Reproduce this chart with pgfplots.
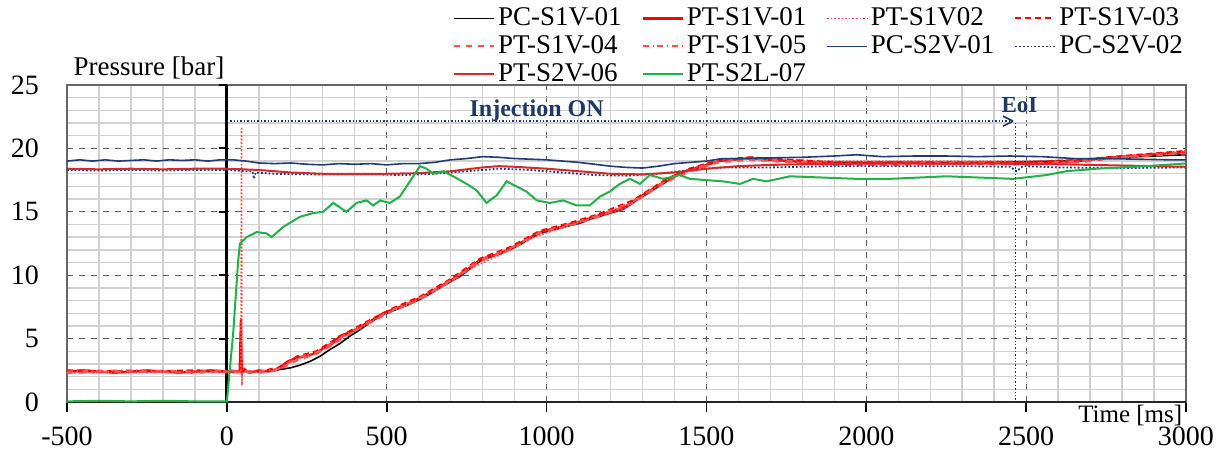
\documentclass[border=0pt]{standalone}
\usepackage{pgfplots}
\pgfplotsset{compat=1.18}
\usepackage{fontspec}
\setmainfont{Liberation Serif}
\usetikzlibrary{arrows.meta}
\definecolor{navy}{HTML}{203C78}
\definecolor{annot}{HTML}{1F3864}
\definecolor{grn}{HTML}{22B04B}
\definecolor{pink}{HTML}{FF5050}
\definecolor{dred}{HTML}{D42A2A}
\begin{document}
\begin{tikzpicture}
\begin{axis}[
  at={(0,0)}, anchor=south west,
  scale only axis, width=559.5pt, height=158.5pt,
  clip mode=individual,
  xmin=-500, xmax=3000, ymin=0, ymax=25,
  xtick={-500,0,500,1000,1500,2000,2500,3000},
  xticklabels={-500,0,500,1000,1500,2000,2500,3000},
  ytick={0,5,10,15,20,25},
  yticklabels={0,5,10,15,20,25},
  minor x tick num=4, minor y tick num=4,
  grid=both,
  major grid style={dashed, black!65, line width=0.5pt},
  minor grid style={solid, black!18, line width=0.7pt},
  axis line style={black!60, line width=0.6pt},
  tick align=outside, xtick pos=bottom, ytick style={draw=none},
  major tick length=5pt, minor tick length=0pt,
  xtick style={black, line width=0.8pt},
  ticklabel style={font=\fontsize{14}{14}\selectfont},
  xticklabel style={yshift=-4pt},
  yticklabel style={xshift=-5.5pt},
  legend columns=4,
  legend cell align=left,
  legend image code/.code={\draw[#1] (0pt,0pt) -- (20pt,0pt);},
  legend style={draw=none, fill=none, inner sep=0pt, outer sep=0pt,
    at={(rel axis cs:1.0,1.2524)}, anchor=north east,
    font=\fontsize{13.5}{13.5}\selectfont,
    row sep=0.5pt,
    /tikz/every even column/.append style={column sep=8.5pt},
    nodes={inner sep=1.5pt}},
]
% axis lines
\draw[black!85, line width=1.1pt] (axis cs:-500,0) -- (axis cs:3000,0);
\draw[black, line width=1.6pt] (axis cs:0,0) -- (axis cs:0,25);
\draw[black, line width=1pt] (axis cs:0,5) -- ++(-4pt,0pt);
\draw[black, line width=1pt] (axis cs:0,10) -- ++(-4pt,0pt);
\draw[black, line width=1pt] (axis cs:0,15) -- ++(-4pt,0pt);
\draw[black, line width=1pt] (axis cs:0,20) -- ++(-4pt,0pt);
\draw[black, line width=1pt] (axis cs:0,25) -- ++(-4pt,0pt);

% PC-S1V-01 black
\addplot[black, line width=0.8pt] coordinates {
(-500,2.4) (-250,2.4) (0,2.4) (100,2.4) (150,2.5) (200,2.7) (228,2.9) (260,3.2) (291,3.6) (320,4.1) (353,4.6) (385,5.2) (416,5.7) (450,6.3) (489,6.9) (520,7.2) (541,7.4) (570,7.7) (604,8.1) (640,8.6) (666,9.0) (700,9.5) (729,9.9) (760,10.5) (791,11.1) (820,11.4) (854,11.7) (885,12.0) (916,12.4) (950,12.9) (979,13.3) (1010,13.5) (1042,13.7) (1070,13.9) (1104,14.1) (1135,14.4) (1161,14.6) (1200,14.9) (1240,15.2) (1270,15.7) (1292,16.1) (1320,16.5) (1344,16.9) (1370,17.3) (1396,17.7) (1420,18.0) (1448,18.3) (1500,18.7) (1540,19.0) (1573,19.1) (1636,19.2) (1698,19.1) (1761,19.0) (1820,18.9) (1900,18.9) (2000,18.9) (2200,18.9) (2400,18.9) (2600,19.0) (2700,19.1) (2800,19.3) (2900,19.4) (3000,19.5)
};
\addlegendentry{PC-S1V-01}

% PT-S1V-01 red solid
\addplot[red, line width=1.1pt] coordinates {
(-500,2.4) (-450,2.5) (-400,2.4) (-350,2.3) (-300,2.4) (-250,2.5) (-200,2.4) (-150,2.3) (-100,2.4) (-50,2.5) (0,2.4) (40,2.4) (44,6.6) (47,2.3) (55,2.6) (70,2.3) (100,2.5) (130,2.4) (160,2.6) (190,3.2) (220,3.5) (250,3.6) (280,3.9) (300,4.2) (330,4.6) (353,5.2) (385,5.5) (416,5.9) (450,6.4) (489,7.0) (520,7.3) (541,7.5) (570,7.8) (604,8.2) (640,8.7) (666,9.1) (700,9.6) (729,10.0) (760,10.6) (791,11.2) (820,11.5) (854,11.7) (885,12.1) (916,12.5) (950,13.0) (979,13.4) (1010,13.6) (1042,13.8) (1070,14.0) (1104,14.2) (1135,14.5) (1161,14.7) (1200,15.0) (1240,15.3) (1270,15.8) (1292,16.2) (1320,16.6) (1344,17.0) (1370,17.4) (1396,17.8) (1420,18.1) (1448,18.3) (1500,18.7) (1540,19.0) (1573,19.1) (1636,19.2) (1698,19.1) (1761,19.0) (1820,18.9) (1900,18.8) (2000,18.8) (2100,18.9) (2200,18.8) (2300,18.8) (2400,18.9) (2500,18.8) (2600,18.9) (2668,19.0) (2720,19.2) (2772,19.3) (2830,19.4) (2880,19.5) (2940,19.6) (3000,19.7)
};
\addlegendentry{PT-S1V-01}

% PT-S1V02 dotted light red with spike
\addplot[red!70, densely dotted, line width=0.8pt] coordinates {
(-500,2.3) (-300,2.3) (-100,2.4) (0,2.3) (44,2.3) (46,21.7) (47,1.3) (49,2.4) (100,2.4) (160,2.6) (220,3.4) (280,3.8) (353,5.0) (416,5.8) (489,6.9) (570,7.7) (666,9.0) (760,10.5) (854,11.6) (950,12.9) (1042,13.7) (1135,14.4) (1240,15.2) (1344,17.0) (1448,18.4) (1540,19.1) (1636,19.3) (1761,19.1) (1900,19.0) (2100,19.0) (2300,19.0) (2500,19.0) (2668,19.1) (2800,19.4) (3000,19.8)
};
\addlegendentry{PT-S1V02}

% PT-S1V-03 dashed red
\addplot[red, densely dashed, line width=1pt] coordinates {
(-500,2.5) (-300,2.4) (-100,2.5) (0,2.4) (100,2.4) (160,2.7) (220,3.6) (280,4.0) (330,4.8) (385,5.6) (450,6.5) (520,7.4) (604,8.3) (700,9.7) (791,11.3) (885,12.2) (979,13.5) (1070,14.1) (1161,14.8) (1270,15.9) (1370,17.5) (1448,18.4) (1540,19.1) (1636,19.3) (1761,19.1) (1900,18.9) (2100,18.9) (2300,18.9) (2500,18.9) (2668,19.1) (2800,19.4) (3000,19.8)
};
\addlegendentry{PT-S1V-03}

% PT-S1V-04 dashed pink
\addplot[pink, dashed, line width=1pt] coordinates {
(-500,2.3) (-300,2.4) (-100,2.3) (0,2.4) (100,2.3) (160,2.5) (220,3.3) (280,3.8) (330,4.5) (385,5.4) (450,6.3) (520,7.2) (604,8.1) (700,9.5) (791,11.1) (885,12.0) (979,13.3) (1070,13.9) (1161,14.6) (1270,15.7) (1370,17.3) (1448,18.2) (1540,18.9) (1636,19.1) (1761,18.9) (1900,18.7) (2100,18.7) (2300,18.8) (2500,18.7) (2668,18.9) (2800,19.3) (3000,19.6)
};
\addlegendentry{PT-S1V-04}

% PT-S1V-05 dash-dot pink
\addplot[pink, dashdotted, line width=1pt] coordinates {
(-500,2.4) (-300,2.5) (-100,2.4) (0,2.5) (100,2.4) (160,2.6) (220,3.5) (280,3.9) (330,4.7) (385,5.5) (450,6.4) (520,7.3) (604,8.2) (700,9.6) (791,11.2) (885,12.1) (979,13.4) (1070,14.0) (1161,14.7) (1270,15.8) (1370,17.4) (1448,18.3) (1540,19.0) (1636,19.2) (1761,19.0) (1900,18.8) (2100,18.8) (2300,18.9) (2500,18.8) (2668,19.0) (2800,19.3) (3000,19.7)
};
\addlegendentry{PT-S1V-05}

% PC-S2V-01 navy
\addplot[navy, line width=0.8pt] coordinates {
(-500,19.0) (-460,19.1) (-420,19.0) (-380,19.1) (-340,19.0) (-300,19.05) (-260,19.1) (-220,19.0) (-180,19.1) (-140,19.05) (-100,19.1) (-60,19.0) (-20,19.1) (20,19.1) (60,19.0) (100,18.85) (150,18.8) (200,18.85) (250,18.75) (300,18.7) (350,18.8) (400,18.75) (450,18.8) (500,18.7) (550,18.8) (600,18.8) (650,18.9) (700,19.1) (750,19.2) (800,19.35) (850,19.3) (900,19.2) (950,19.15) (1000,19.1) (1050,19.0) (1100,18.9) (1150,18.75) (1200,18.6) (1250,18.5) (1300,18.45) (1350,18.6) (1400,18.8) (1450,18.9) (1500,19.0) (1550,19.2) (1600,19.2) (1700,19.25) (1800,19.3) (1900,19.4) (1970,19.5) (2050,19.35) (2150,19.4) (2250,19.4) (2350,19.35) (2450,19.4) (2550,19.35) (2650,19.2) (2750,19.2) (2850,19.15) (2950,19.1) (3000,19.1)
};
\addlegendentry{PC-S2V-01}

% PC-S2V-02 navy dotted
\addplot[navy, densely dotted, line width=0.9pt] coordinates {
(-500,18.3) (-400,18.25) (-300,18.3) (-200,18.25) (-100,18.3) (0,18.3) (60,18.2) (80,18.2) (85,17.6) (90,18.1) (150,18.0) (250,17.95) (350,17.95) (450,17.95) (550,17.9) (650,18.0) (750,18.2) (850,18.4) (950,18.3) (1050,18.1) (1150,17.9) (1250,17.85) (1350,18.0) (1450,18.3) (1550,18.5) (1700,18.5) (1900,18.6) (2100,18.6) (2300,18.6) (2450,18.55) (2470,18.2) (2490,18.6) (2600,18.5) (2800,18.45) (3000,18.5)
};
\addlegendentry{PC-S2V-02}

% PT-S2V-06 dark red
\addplot[dred, line width=1pt] coordinates {
(-500,18.4) (-400,18.35) (-300,18.4) (-200,18.35) (-100,18.4) (0,18.4) (100,18.3) (200,18.1) (300,18.0) (400,18.0) (500,18.0) (600,18.05) (700,18.2) (800,18.5) (850,18.6) (900,18.55) (1000,18.4) (1100,18.2) (1200,18.0) (1300,17.95) (1400,18.1) (1500,18.4) (1600,18.6) (1700,18.7) (1800,18.75) (2000,18.8) (2200,18.8) (2400,18.8) (2600,18.75) (2700,18.7) (2800,18.65) (2900,18.6) (3000,18.55)
};
\addlegendentry{PT-S2V-06}

% PT-S2L-07 green
\addplot[grn, line width=1pt] coordinates {
(-500,0.05) (-400,0.1) (-300,0.05) (-200,0.1) (-100,0.05) (0,0.05) (20,5.5) (35,11.0) (41,12.5) (62,13.0) (93,13.4) (124,13.3) (140,13.0) (176,13.8) (228,14.6) (270,14.9) (301,15.0) (333,15.7) (374,15.0) (406,15.7) (437,15.9) (458,15.5) (479,15.9) (510,15.7) (541,16.2) (562,17.0) (583,17.8) (604,18.6) (625,18.4) (645,18.0) (677,18.2) (708,17.8) (750,17.2) (781,16.7) (812,15.7) (844,16.3) (875,17.4) (906,17.0) (937,16.6) (969,15.9) (1010,15.7) (1052,15.9) (1094,15.5) (1135,15.5) (1167,16.2) (1198,16.6) (1229,17.2) (1261,17.6) (1292,17.2) (1323,17.9) (1365,17.6) (1417,17.9) (1448,17.6) (1500,17.5) (1552,17.4) (1605,17.2) (1646,17.6) (1688,17.4) (1761,17.8) (1865,17.7) (1969,17.6) (2074,17.6) (2251,17.8) (2459,17.6) (2564,17.9) (2626,18.2) (2720,18.4) (2877,18.6) (2991,18.8) (3000,18.8)
};
\addlegendentry{PT-S2L-07}

% annotations
\addplot[annot, densely dotted, line width=0.7pt, forget plot] coordinates {(0,22.15) (2459,22.15)};
\addplot[annot, densely dotted, line width=0.7pt, forget plot] coordinates {(2467,22.0) (2467,0)};
\draw[annot, line width=0.8pt] (axis cs:2459,22.15) -- ++(-5pt,2.5pt);
\draw[annot, line width=0.8pt] (axis cs:2459,22.15) -- ++(-5pt,-2.5pt);
\node[annot, font=\bfseries\fontsize{12}{12}\selectfont] at (axis cs:969,22.95) {Injection ON};
\node[annot, font=\bfseries\fontsize{11.5}{11.5}\selectfont] at (axis cs:2479,23.4) {EoI};
\node[anchor=west, font=\fontsize{13.5}{13.5}\selectfont, inner sep=0pt] at (rel axis cs:0.0056,1.054) {Pressure [bar]};
\node[anchor=north east, font=\fontsize{12.5}{12.5}\selectfont, inner sep=0pt] at (rel axis cs:0.997,-0.008) {Time [ms]};
\end{axis}
\pgfresetboundingbox
\path[use as bounding box] (-33.5pt,-25pt) rectangle (577.5pt,201pt);
\end{tikzpicture}
\end{document}
